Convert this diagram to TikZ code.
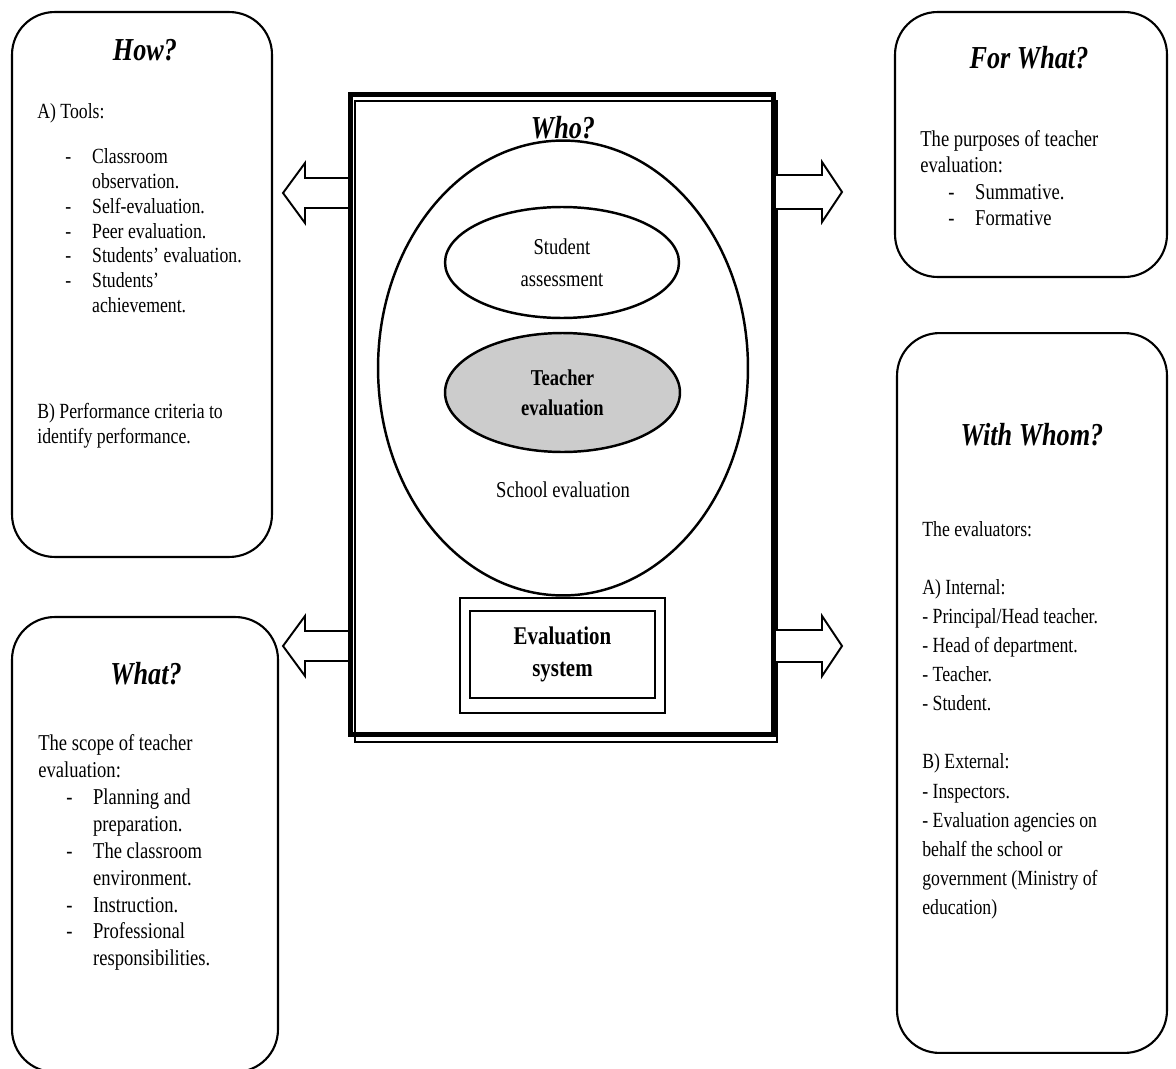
\documentclass[tikz,border=0pt]{standalone}
\usepackage{fontspec}
\setmainfont{Liberation Serif}[FakeStretch=0.82]
\usetikzlibrary{positioning,shapes.geometric}
\newcommand{\dashitem}[1]{\hspace*{15.9pt}\makebox[15.3pt][l]{-}#1}
\newcommand{\cont}{\hspace*{31.2pt}}

\begin{document}
\begin{tikzpicture}[
    x=0.02cm, y=-0.02cm,
    panel/.style={draw, line width=1.2pt, rounded corners=0.85cm},
    ttl/.style={font=\fontsize{18.2}{21}\selectfont\bfseries\itshape},
    body/.style={align=left, inner sep=0pt, anchor=north west, font=\fontsize{12.3}{14.2}\selectfont},
    oval/.style={draw, ellipse, line width=1.4pt, align=center, inner sep=0pt},
    blk/.style={draw, fill=white, line width=1.1pt, line join=miter},
    midtxt/.style={align=center, font=\fontsize{12.9}{18}\selectfont}
]
\useasboundingbox (0,0) rectangle (1176,1068);

% Side panels
\node[panel, minimum width=5.2cm, minimum height=10.9cm] (how) at (142,284.5) {};
\node[panel, minimum width=5.32cm, minimum height=9.1cm] (what) at (145,844.5) {};
\node[panel, minimum width=5.44cm, minimum height=5.3cm] (forwhat) at (1031,144.5) {};
\node[panel, minimum width=5.4cm, minimum height=14.4cm] (withwhom) at (1032,693) {};

% Titles
\node[ttl] (howttl) at (145,50) {How?};
\node[ttl] (whatttl) at (146,674) {What?};
\node[ttl] (forttl) at (1029,58) {For What?};
\node[ttl] (withttl) at (1032,435) {With Whom?};

% How
\node[body] (howtxt) at (37,103) {A) Tools:\\[11.3pt]
\dashitem{Classroom}\\
\cont observation.\\
\dashitem{Self-evaluation.}\\
\dashitem{Peer evaluation.}\\
\dashitem{Students’ evaluation.}\\
\dashitem{Students’}\\
\cont achievement.\\[46pt]
B) Performance criteria to\\
identify performance.};

% What
\node[body, font=\fontsize{12.9}{15.3}\selectfont] (whattxt) at (38,734.5) {The scope of teacher\\
evaluation:\\
\dashitem{Planning and}\\
\cont preparation.\\
\dashitem{The classroom}\\
\cont environment.\\
\dashitem{Instruction.}\\
\dashitem{Professional}\\
\cont responsibilities.};

% For what
\node[body, font=\fontsize{12.9}{15}\selectfont] (fortxt) at (920,130) {The purposes of teacher\\
evaluation:\\
\dashitem{Summative.}\\
\dashitem{Formative}};

% With whom
\node[body, font=\fontsize{12.3}{16.55}\selectfont] (withtxt) at (922,521) {The evaluators:\\[16.55pt]
A) Internal:\\
- Principal/Head teacher.\\
- Head of department.\\
- Teacher.\\
- Student.\\[16.55pt]
B) External:\\
- Inspectors.\\
- Evaluation agencies on\\
behalf the school or\\
government (Ministry of\\
education)};

% Who frame (thin line first, arrows, then thick line)
\node[draw, line width=0.8pt, minimum width=8.44cm, minimum height=12.82cm] (whoin) at (566,421.5) {};

\coordinate (lup) at (350,193);
\coordinate (llow) at (350,646);
\coordinate (rup) at (774,192);
\coordinate (rlow) at (774,646);
\draw[blk] (lup) -- ++(0,-15) -- ++(-45,0) -- ++(0,-15) -- ++(-22,30) -- ++(22,30) -- ++(0,-15) -- ++(45,0) -- cycle;
\draw[blk] (llow) -- ++(0,-15) -- ++(-45,0) -- ++(0,-15) -- ++(-22,30) -- ++(22,30) -- ++(0,-15) -- ++(45,0) -- cycle;
\draw[blk] (rup) -- ++(0,-17) -- ++(48,0) -- ++(0,-13) -- ++(20,30) -- ++(-20,30) -- ++(0,-13) -- ++(-48,0) -- cycle;
\draw[blk] (rlow) -- ++(0,-16) -- ++(48,0) -- ++(0,-14) -- ++(20,30) -- ++(-20,30) -- ++(0,-14) -- ++(-48,0) -- cycle;

\node[draw, line width=2.8pt, minimum width=8.46cm, minimum height=12.8cm] (who) at (562,414.5) {};
\node[ttl] (whottl) at (563,128) {Who?};

% Ovals
\node[oval, minimum width=7.4cm, minimum height=9.1cm] (school) at (563,368) {};
\node[oval, minimum width=4.68cm, minimum height=2.22cm, font=\fontsize{12.9}{18.5}\selectfont] (student) at (562,262.5) {Student\\assessment};
\node[oval, fill=black!20, minimum width=4.7cm, minimum height=2.38cm, font=\fontsize{12.9}{17}\selectfont\bfseries] (teacher) at (562.5,392.5) {Teacher\\evaluation};
\node[midtxt] (schooltxt) at (563,490) {School evaluation};

% Evaluation system
\node[draw, line width=1.2pt, minimum width=4.1cm, minimum height=2.3cm] (sysout) at (562.5,655.5) {};
\node[draw, line width=1.2pt, minimum width=3.7cm, minimum height=1.74cm, align=center, font=\fontsize{14.5}{18.5}\selectfont\bfseries] (sys) at (562.5,654.5) {Evaluation\\system};
\end{tikzpicture}
\end{document}
